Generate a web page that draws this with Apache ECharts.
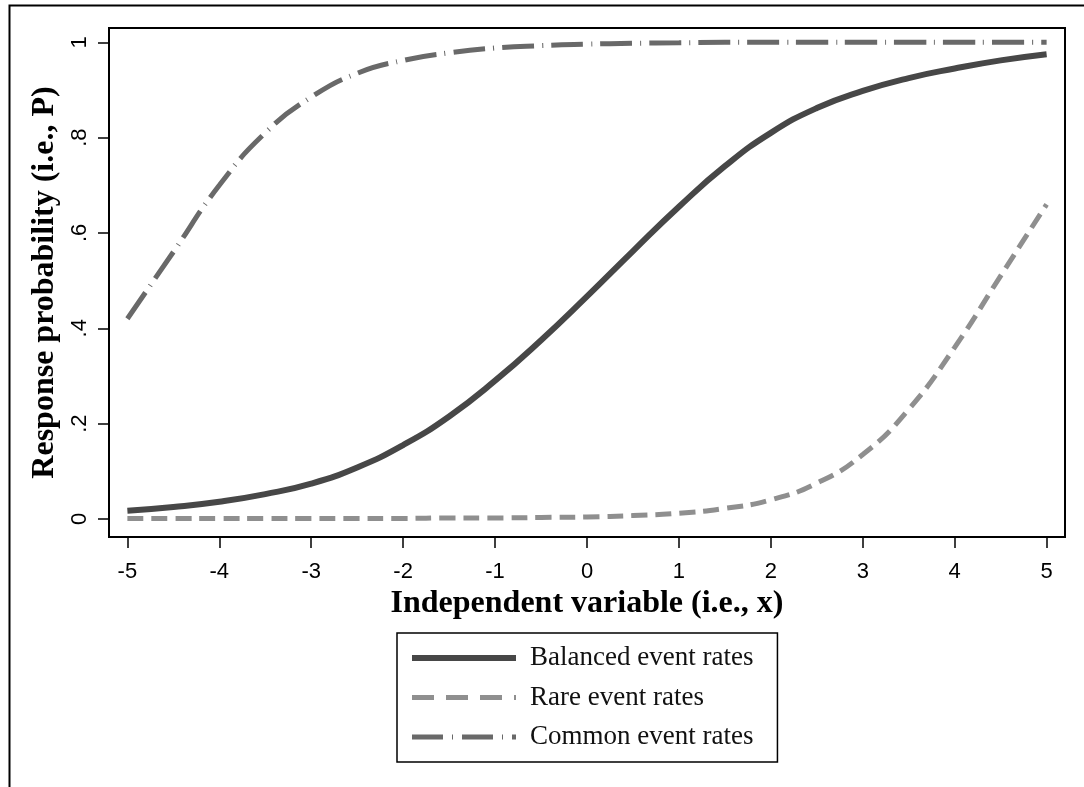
<!DOCTYPE html>
<html>
<head>
<meta charset="utf-8">
<script src="https://cdn.jsdelivr.net/npm/echarts@6/dist/echarts.min.js"></script>
<style>
html,body{margin:0;padding:0;background:#fff;}
#chart{width:1084px;height:787px;}
</style>
</head>
<body>
<div id="chart"></div>
<script>
// Data
const xValues = [-5, -4.5, -4, -3.5, -3, -2.5, -2, -1.5, -1, -0.5, 0, 0.5, 1, 1.5, 2, 2.5, 3, 3.5, 4, 4.5, 5];
const balancedRates = [0.017, 0.025, 0.036, 0.052, 0.074, 0.108, 0.155, 0.215, 0.29, 0.375, 0.467, 0.562, 0.655, 0.74, 0.81, 0.862, 0.898, 0.925, 0.945, 0.962, 0.975];
const rareRates = [0.001, 0.001, 0.001, 0.001, 0.001, 0.001, 0.001, 0.002, 0.002, 0.003, 0.004, 0.007, 0.012, 0.022, 0.04, 0.075, 0.135, 0.23, 0.36, 0.51, 0.66];
const commonRates = [0.42, 0.56, 0.70, 0.81, 0.885, 0.935, 0.962, 0.978, 0.988, 0.993, 0.996, 0.998, 0.999, 1.0, 1.0, 1.0, 1.0, 1.0, 1.0, 1.0, 1.0];
const seriesNames = ['Balanced event rates', 'Rare event rates', 'Common event rates'];
const xTicks = [-5, -4, -3, -2, -1, 0, 1, 2, 3, 4, 5];
const yTicks = [0, 0.2, 0.4, 0.6, 0.8, 1];
const yTickLabels = ['0', '.2', '.4', '.6', '.8', '1'];

function pairs(vals) { return xValues.map((x, i) => [x, vals[i]]); }

const chart = echarts.init(document.getElementById('chart'), null, {renderer: 'canvas'});
const serif = 'Liberation Serif, Times New Roman, serif';
const sans = 'Liberation Sans, Arial, sans-serif';

chart.setOption({
  animation: false,
  backgroundColor: '#fff',
  graphic: [{
    type: 'rect', left: 7, top: 3, z: 100,
    shape: {width: 1200, height: 1000},
    style: {fill: 'none', stroke: '#000', lineWidth: 2}
  }],
  grid: {
    left: 109, right: 19, top: 28, bottom: 250,
    show: true, borderColor: '#000', borderWidth: 2, backgroundColor: '#fff'
  },
  legend: {
    orient: 'vertical',
    left: 397, top: 633,
    padding: [10, 24, 10, 12],
    borderColor: '#000', borderWidth: 1.5,
    itemWidth: 104, itemHeight: 14, itemGap: 9.5,
    itemStyle: {color: 'rgba(0,0,0,0)', borderWidth: 0},
    textStyle: {fontFamily: serif, fontSize: 27, color: '#111', lineHeight: 30, padding: [0, 0, 0, 9]},
    data: [
      {name: seriesNames[0], lineStyle: {width: 6, type: 'solid'}},
      {name: seriesNames[1], lineStyle: {width: 5, type: [22, 12]}},
      {name: seriesNames[2], lineStyle: {width: 5, type: [31, 9, 1, 9]}}
    ]
  },
  xAxis: {
    type: 'value', min: -5.2, max: 5.2,
    name: 'Independent variable (i.e., x)',
    nameLocation: 'middle', nameGap: 49,
    nameTextStyle: {fontFamily: serif, fontWeight: 'bold', fontSize: 32, color: '#000'},
    axisLine: {show: true, onZero: false, lineStyle: {color: '#000', width: 2}},
    axisTick: {show: true, length: 11, inside: false, customValues: xTicks, lineStyle: {color: '#000', width: 1.5}},
    axisLabel: {customValues: xTicks, margin: 24, fontFamily: sans, fontSize: 22, color: '#000',
      formatter: v => String(v)},
    splitLine: {show: false}
  },
  yAxis: {
    type: 'value', min: -0.038, max: 1.03,
    name: 'Response probability (i.e., P)',
    nameLocation: 'middle', nameGap: 43,
    nameTextStyle: {fontFamily: serif, fontWeight: 'bold', fontSize: 32, color: '#000'},
    axisLine: {show: true, onZero: false, lineStyle: {color: '#000', width: 2}},
    axisTick: {show: true, length: 11, inside: false, customValues: yTicks, lineStyle: {color: '#000', width: 1.5}},
    axisLabel: {customValues: yTicks, rotate: 90, margin: 18, fontFamily: sans, fontSize: 22, color: '#000',
      formatter: v => { const i = yTicks.findIndex(t => Math.abs(t - v) < 1e-6); return i >= 0 ? yTickLabels[i] : ''; }},
    splitLine: {show: false}
  },
  series: [
    {name: seriesNames[0], type: 'line', data: pairs(balancedRates), symbol: 'none', smooth: 0.5,
      lineStyle: {color: '#474747', width: 6, type: 'solid'}, itemStyle: {color: '#474747'}},
    {name: seriesNames[1], type: 'line', data: pairs(rareRates), symbol: 'none', smooth: 0.5,
      lineStyle: {color: '#8f8f8f', width: 5, type: [16, 8]}, itemStyle: {color: '#8f8f8f'}},
    {name: seriesNames[2], type: 'line', data: pairs(commonRates), symbol: 'none', smooth: 0.5,
      lineStyle: {color: '#696969', width: 5, type: [32, 8, 1, 8]}, itemStyle: {color: '#696969'}}
  ]
});
</script>
</body>
</html>
